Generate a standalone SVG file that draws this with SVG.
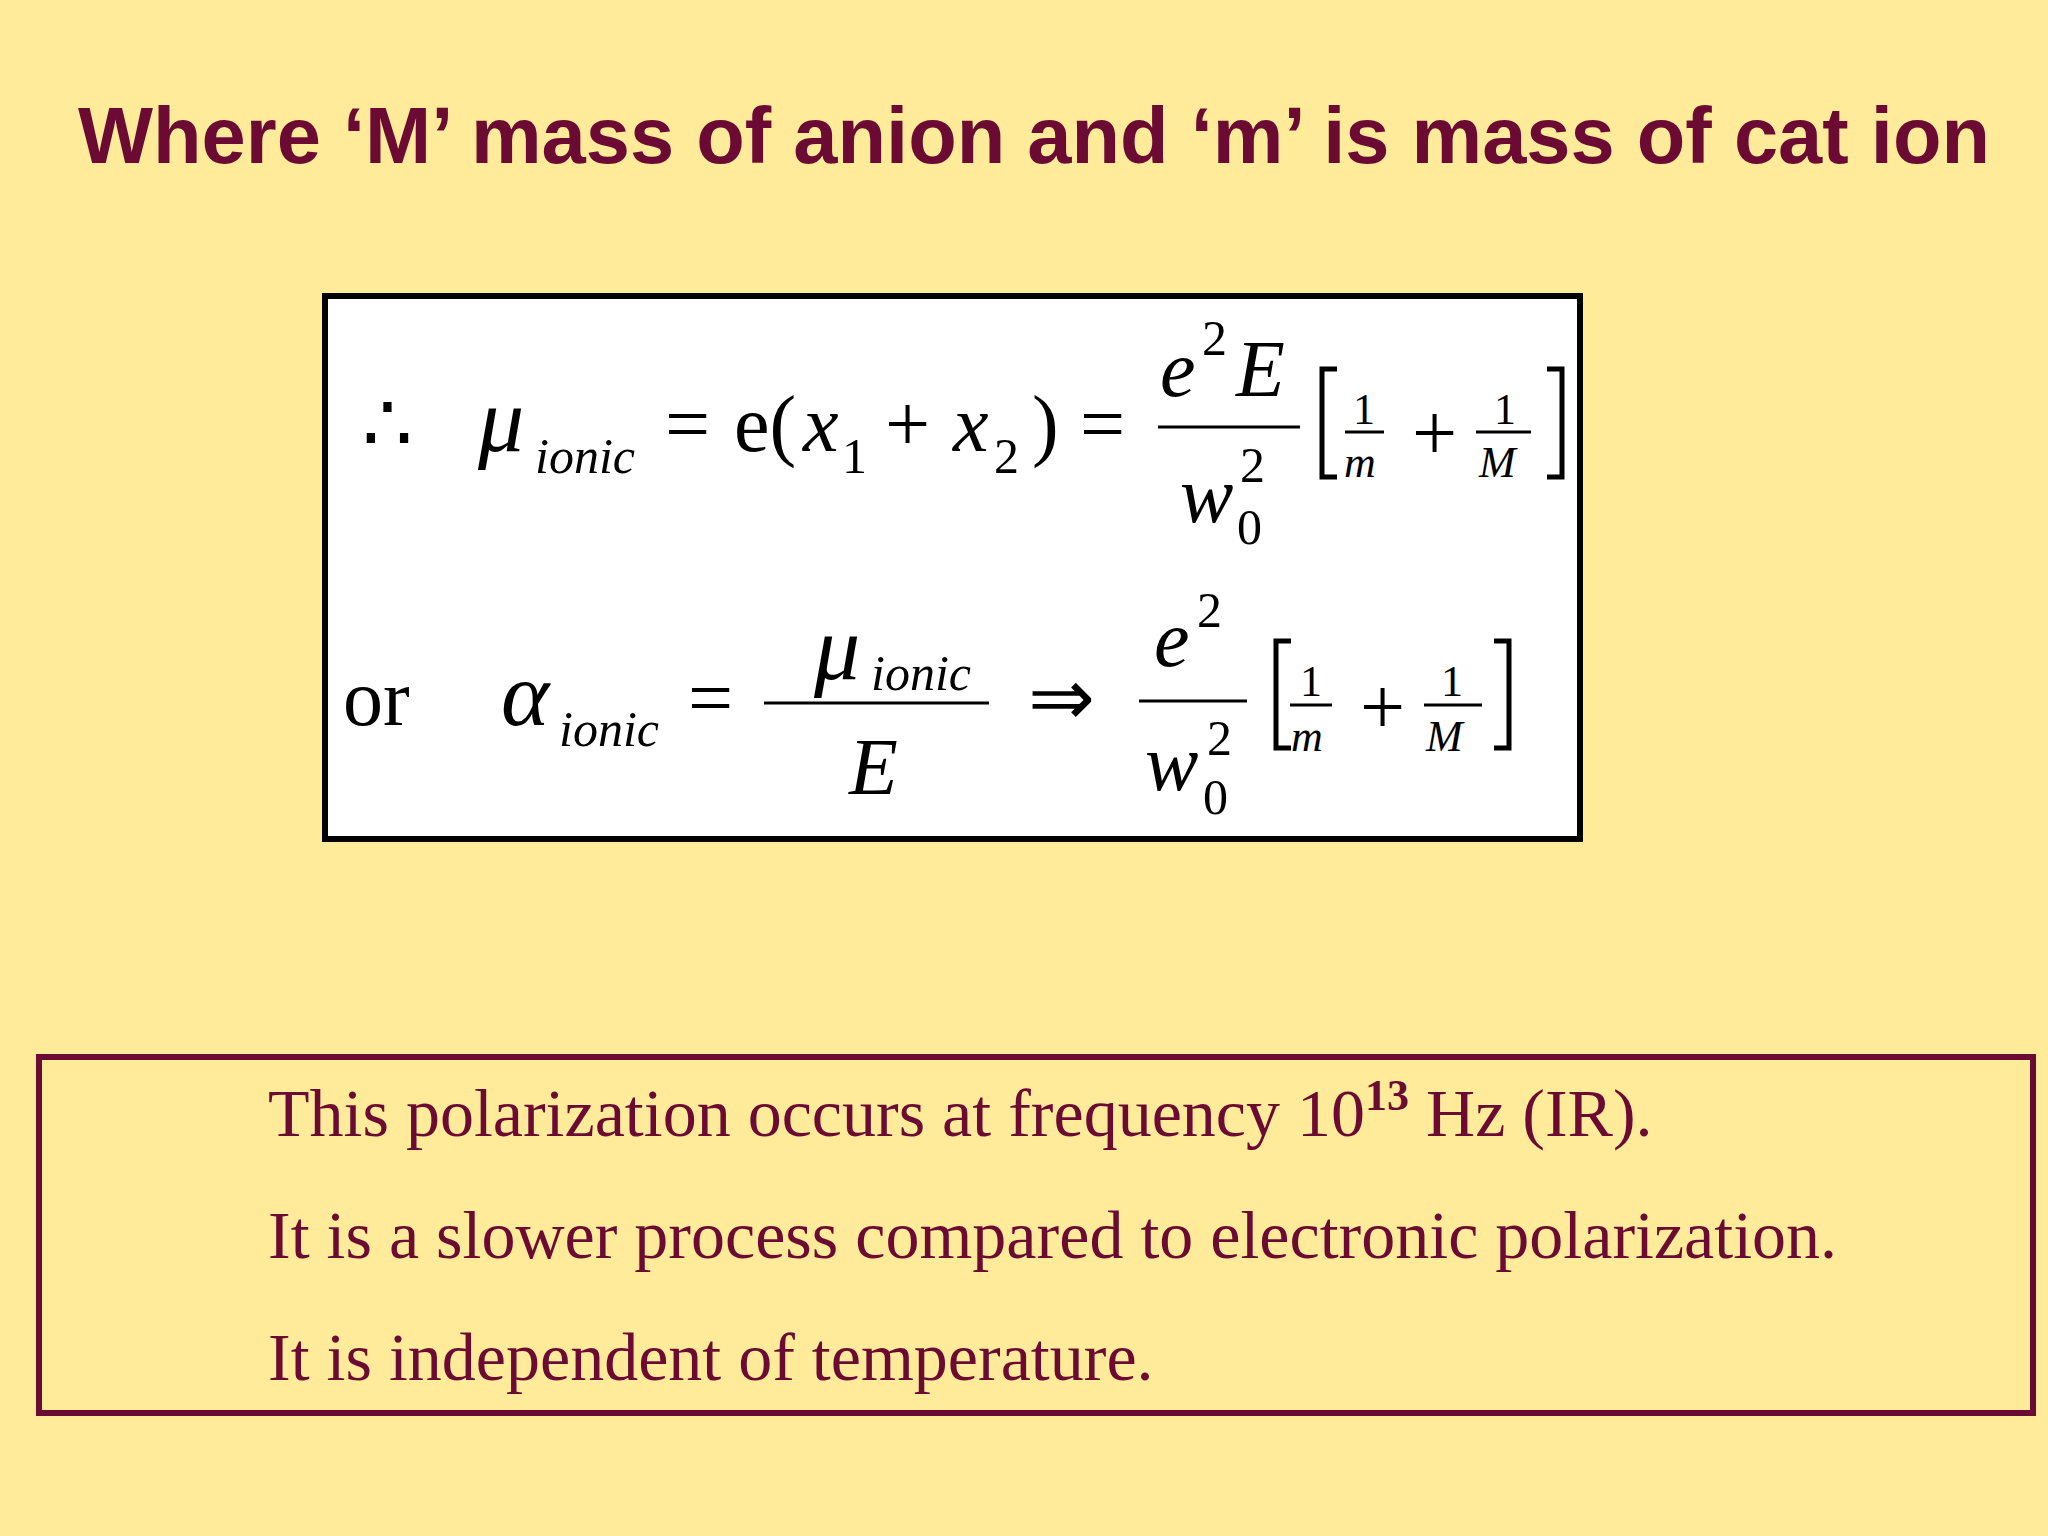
<svg xmlns="http://www.w3.org/2000/svg" width="2048" height="1536" viewBox="0 0 2048 1536">
<style>
.t{font-family:"Liberation Serif",serif;fill:#000}
.i{font-style:italic}
.big{font-size:80px}
.gr{font-size:92px}
.sub{font-size:50px}
.sm{font-size:44px}
.b{fill:none;stroke:#000;stroke-width:5}
.fl{stroke:#000;stroke-width:3}
.note{font-family:"Liberation Serif",serif;font-size:68px;fill:#6B0A33}
</style>
<rect width="2048" height="1536" fill="#FFEB99"/>
<g id="title"><text x="78" y="163" textLength="1912" lengthAdjust="spacingAndGlyphs" font-family="Liberation Sans,Arial,sans-serif" font-weight="bold" font-size="79" fill="#6B0A33">Where ‘M’ mass of anion and ‘m’ is mass of cat ion</text></g>
<g id="equations">
<rect x="325" y="296" width="1255" height="543" fill="#fff" stroke="#000" stroke-width="6"/>
<text class="t big" x="362" y="451">∴</text>
<text class="t gr i" x="478" y="451">μ</text>
<text class="t sub i" x="535" y="473">ionic</text>
<text class="t big" x="665" y="451">=</text>
<text class="t big" x="734" y="451">e(</text>
<text class="t big i" x="803" y="451">x</text>
<text class="t sub" x="842" y="473">1</text>
<text class="t big" x="885" y="451">+</text>
<text class="t big i" x="953" y="451">x</text>
<text class="t sub" x="994" y="473">2</text>
<text class="t big" x="1032" y="451">)</text>
<text class="t big" x="1080" y="451">=</text>
<line class="fl" x1="1158" y1="427" x2="1300" y2="427"/>
<text class="t big i" x="1160" y="396">e</text>
<text class="t sub" x="1202" y="355">2</text>
<text class="t big i" x="1236" y="396">E</text>
<text class="t big i" x="1180" y="522">w</text>
<text class="t sub" x="1240" y="482">2</text>
<text class="t sub" x="1237" y="544">0</text>
<path class="b" d="M1337 369 H1322 V477 H1337 M1547 369 H1562 V477 H1547"/>
<text class="t sm" x="1353" y="424">1</text>
<line class="fl" x1="1345" y1="432" x2="1384" y2="432"/>
<text class="t sm i" x="1344" y="477">m</text>
<text class="t big" x="1412" y="460">+</text>
<text class="t sm" x="1494" y="424">1</text>
<line class="fl" x1="1476" y1="432" x2="1531" y2="432"/>
<text class="t sm i" x="1479" y="477">M</text>

<text class="t big" x="343" y="725">or</text>
<text class="t gr i" x="501" y="725">α</text>
<text class="t sub i" x="559" y="746">ionic</text>
<text class="t big" x="688" y="725">=</text>
<line class="fl" x1="764" y1="703" x2="989" y2="703"/>
<text class="t gr i" x="814" y="679">μ</text>
<text class="t sub i" x="871" y="690">ionic</text>
<text class="t big i" x="849" y="794">E</text>
<text class="t big" x="1028" y="725">⇒</text>
<line class="fl" x1="1139" y1="701" x2="1247" y2="701"/>
<text class="t big i" x="1154" y="666">e</text>
<text class="t sub" x="1197" y="627">2</text>
<text class="t big i" x="1145" y="790">w</text>
<text class="t sub" x="1207" y="755">2</text>
<text class="t sub" x="1203" y="814">0</text>
<path class="b" d="M1291 641 H1276 V748 H1291 M1494 641 H1509 V748 H1494"/>
<text class="t sm" x="1300" y="696">1</text>
<line class="fl" x1="1290" y1="705" x2="1332" y2="705"/>
<text class="t sm i" x="1291" y="751">m</text>
<text class="t big" x="1360" y="734">+</text>
<text class="t sm" x="1441" y="696">1</text>
<line class="fl" x1="1424" y1="705" x2="1482" y2="705"/>
<text class="t sm i" x="1426" y="751">M</text>
</g>
<g id="notes">
<rect x="39" y="1057" width="1994" height="356" fill="none" stroke="#6B0A33" stroke-width="6"/>
<text class="note" x="268" y="1136">This polarization occurs at frequency 10<tspan font-size="44" font-weight="bold" dy="-26">13</tspan><tspan dy="26"> Hz (IR).</tspan></text>
<text class="note" x="268" y="1258">It is a slower process compared to electronic polarization.</text>
<text class="note" x="268" y="1380">It is independent of temperature.</text>
</g>
</svg>
